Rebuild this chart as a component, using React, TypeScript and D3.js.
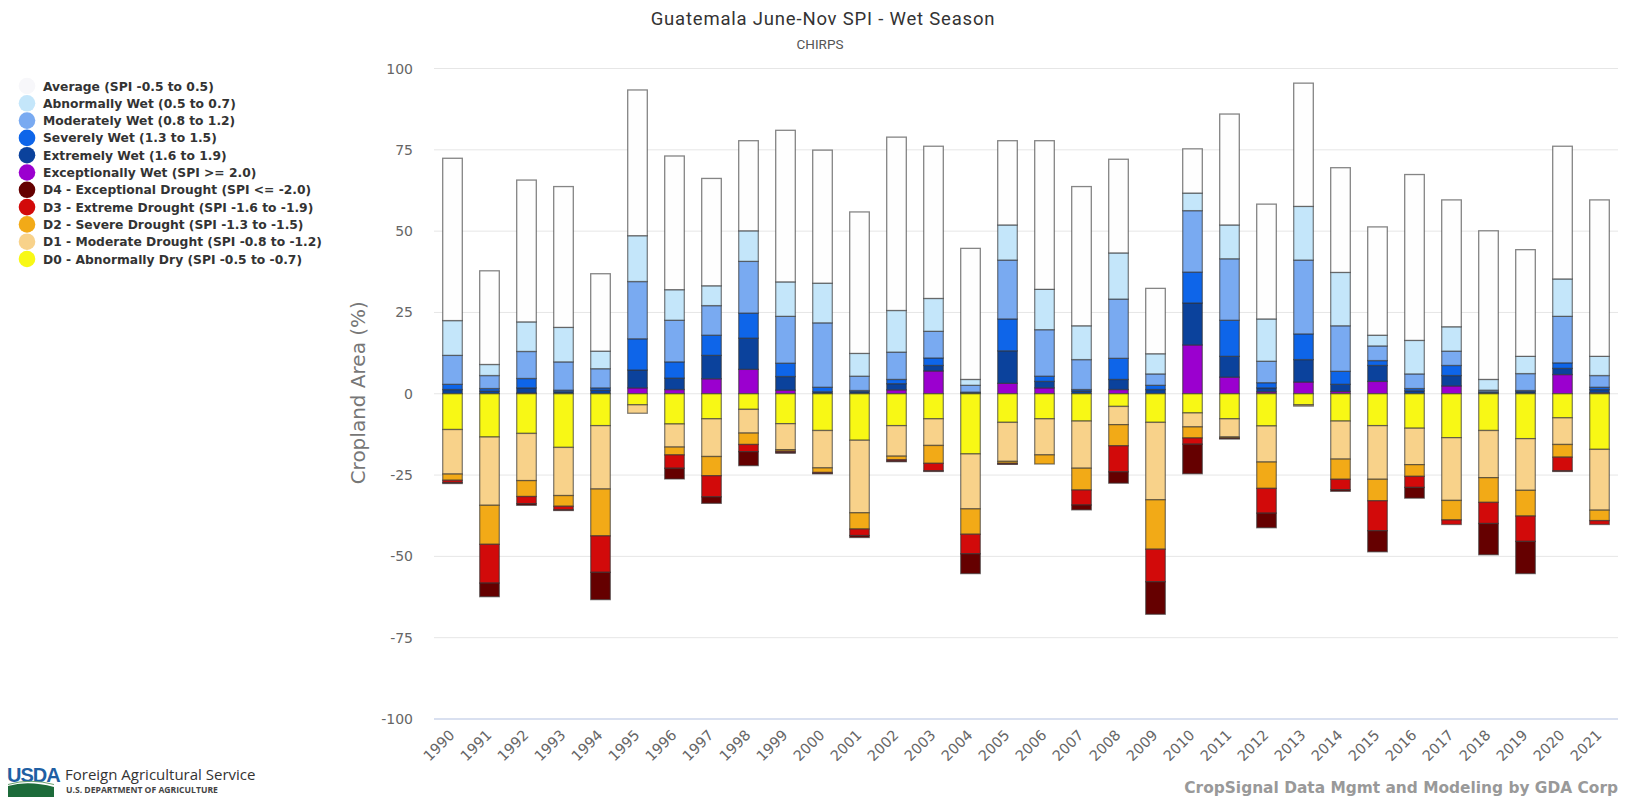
import React from "react";
import { scaleBand, scaleLinear } from "d3";

// Seasonal SPI cropland share (%) for Guatemala, June–November, per year.
const years = [
  "1990", "1991", "1992", "1993", "1994", "1995", "1996", "1997", "1998", "1999",
  "2000", "2001", "2002", "2003", "2004", "2005", "2006", "2007", "2008", "2009",
  "2010", "2011", "2012", "2013", "2014", "2015", "2016", "2017", "2018", "2019",
  "2020", "2021",
];

// Wet classes (stacked upward from zero)
const exceptionallyWet = [0, 0, 0.2, 0, 0, 1.8, 1.3, 4.6, 7.5, 1.1, 0, 0, 1.2, 7.0, 0, 3.2, 1.8, 0, 1.3, 0, 15.0, 5.1, 0.6, 3.6, 0.7, 3.8, 0, 2.4, 0, 0, 5.9, 0.3];
const extremelyWet = [1.3, 0.8, 1.6, 0.6, 1.1, 5.5, 3.5, 7.2, 9.6, 4.2, 0.6, 0.6, 1.9, 1.7, 0.3, 10.0, 2.0, 0.8, 3.1, 1.3, 12.9, 6.4, 1.2, 6.9, 2.2, 4.9, 0.9, 3.2, 0.3, 0.6, 1.9, 1.0];
const severelyWet = [1.6, 0.8, 2.9, 0.5, 0.7, 9.6, 5.0, 6.2, 7.7, 4.1, 1.4, 0.4, 1.3, 2.3, 0.2, 9.8, 1.6, 0.5, 6.5, 1.3, 9.5, 11.1, 1.6, 7.9, 4.0, 1.5, 0.7, 3.1, 0.3, 0.4, 1.7, 0.7];
const moderatelyWet = [8.9, 4.0, 8.3, 8.7, 5.9, 17.6, 12.8, 9.1, 15.9, 14.4, 19.8, 4.4, 8.4, 8.2, 2.1, 18.1, 14.3, 9.2, 18.2, 3.5, 18.9, 18.9, 6.6, 22.7, 14.0, 4.5, 4.5, 4.4, 0.5, 5.2, 14.3, 3.6];
const abnormallyWet = [10.7, 3.4, 9.1, 10.6, 5.4, 14.1, 9.4, 6.1, 9.4, 10.6, 12.2, 7.0, 12.8, 10.1, 1.8, 10.8, 12.4, 10.4, 14.2, 6.2, 5.4, 10.4, 13.0, 16.5, 16.4, 3.3, 10.3, 7.5, 3.3, 5.3, 11.5, 5.9];
const average = [49.9, 28.8, 43.6, 43.3, 23.8, 44.8, 41.1, 33.0, 27.7, 46.6, 40.9, 43.5, 53.3, 46.8, 40.3, 25.9, 45.7, 42.8, 28.8, 20.1, 13.6, 34.1, 35.3, 37.9, 32.2, 33.3, 51.0, 39.0, 45.7, 32.8, 40.8, 48.1];

// Dry classes (stacked downward from zero)
const d0 = [11.0, 13.3, 12.2, 16.5, 9.8, 3.4, 9.3, 7.7, 4.8, 9.2, 11.3, 14.3, 9.8, 7.7, 18.5, 8.8, 7.7, 8.4, 3.9, 8.8, 5.9, 7.7, 9.9, 3.4, 8.4, 9.8, 10.6, 13.5, 11.3, 13.8, 7.4, 17.1];
const d1 = [13.7, 21.0, 14.5, 14.8, 19.5, 2.6, 7.1, 11.6, 7.3, 8.0, 11.5, 22.3, 9.4, 8.2, 16.9, 12.0, 11.1, 14.5, 5.6, 23.8, 4.3, 5.6, 11.1, 0.4, 11.7, 16.5, 11.2, 19.3, 14.5, 15.9, 8.2, 18.7];
const d2 = [1.9, 12.0, 4.9, 3.3, 14.4, 0, 2.4, 5.9, 3.5, 0.5, 1.4, 5.0, 1.1, 5.5, 7.8, 0.6, 2.8, 6.7, 6.5, 15.2, 3.4, 0.3, 8.1, 0, 6.2, 6.6, 3.6, 6.0, 7.6, 7.9, 3.9, 3.2];
const d3 = [0.7, 11.9, 2.2, 1.1, 11.2, 0, 4.1, 6.5, 2.2, 0.3, 0.3, 2.0, 0.4, 2.3, 6.0, 0.2, 0, 4.6, 8.0, 10.0, 1.9, 0.2, 7.6, 0, 3.2, 9.2, 3.4, 1.4, 6.5, 7.8, 4.2, 1.2];
const d4 = [0.3, 4.2, 0.5, 0.2, 8.4, 0, 3.3, 2.0, 4.3, 0.3, 0.1, 0.6, 0.2, 0.2, 6.1, 0.1, 0, 1.5, 3.5, 10.0, 9.1, 0.1, 4.5, 0, 0.5, 6.5, 3.3, 0, 9.6, 9.9, 0.2, 0];

const yTicks = [-100, -75, -50, -25, 0, 25, 50, 75, 100];

type Series = { name: string; color: string; values: number[]; sign: 1 | -1 };

const wetSeries: Series[] = [
  { name: "Exceptionally Wet (SPI >= 2.0)", color: "#9b00cf", values: exceptionallyWet, sign: 1 },
  { name: "Extremely Wet (1.6 to 1.9)", color: "#0b429c", values: extremelyWet, sign: 1 },
  { name: "Severely Wet (1.3 to 1.5)", color: "#0e65e9", values: severelyWet, sign: 1 },
  { name: "Moderately Wet (0.8 to 1.2)", color: "#79aaf1", values: moderatelyWet, sign: 1 },
  { name: "Abnormally Wet (0.5 to 0.7)", color: "#c4e6fa", values: abnormallyWet, sign: 1 },
  { name: "Average (SPI -0.5 to 0.5)", color: "#fefefe", values: average, sign: 1 },
];
const drySeries: Series[] = [
  { name: "D0 - Abnormally Dry (SPI -0.5 to -0.7)", color: "#f8f815", values: d0, sign: -1 },
  { name: "D1 - Moderate Drought (SPI -0.8 to -1.2)", color: "#f8d28a", values: d1, sign: -1 },
  { name: "D2 - Severe Drought (SPI -1.3 to -1.5)", color: "#f2aa17", values: d2, sign: -1 },
  { name: "D3 - Extreme Drought (SPI -1.6 to -1.9)", color: "#d20a0a", values: d3, sign: -1 },
  { name: "D4 - Exceptional Drought (SPI <= -2.0)", color: "#650000", values: d4, sign: -1 },
];

const legendOrder = [
  wetSeries[5], wetSeries[4], wetSeries[3], wetSeries[2], wetSeries[1], wetSeries[0],
  drySeries[4], drySeries[3], drySeries[2], drySeries[1], drySeries[0],
];

const W = 1627;
const H = 801;
const plotLeft = 434;
const plotRight = 1618;
const plotTop = 68.5;
const plotBottom = 719;

export default function App() {
  const x = scaleBand<string>().domain(years).range([plotLeft, plotRight]).paddingInner(0.47).paddingOuter(0.235);
  const y = scaleLinear().domain([-100, 100]).range([plotBottom, plotTop]);

  const segments: { key: string; x: number; y0: number; y1: number; color: string }[] = [];
  years.forEach((yr, i) => {
    for (const group of [wetSeries, drySeries]) {
      let acc = 0;
      group.forEach((s) => {
        const v = s.values[i];
        if (v <= 0) return;
        const start = acc;
        acc += v * s.sign;
        segments.push({ key: `${yr}-${s.name}`, x: x(yr)!, y0: y(start), y1: y(acc), color: s.color });
      });
    }
  });

  const font = "'DejaVu Sans', Verdana, sans-serif";

  return (
    <div style={{ position: "absolute", left: 0, top: 0 }}>
      <svg width={W} height={H} style={{ display: "block", background: "#fff" }}>
        {/* titles */}
        <text x={823} y={25} textAnchor="middle" fontFamily="Roboto, sans-serif" fontSize={18.5} letterSpacing={0.8} fill="#333">
          Guatemala June-Nov SPI - Wet Season
        </text>
        <text x={820} y={49} textAnchor="middle" fontFamily="Roboto, sans-serif" fontSize={13.5} fill="#555">
          CHIRPS
        </text>

        {/* grid + y labels */}
        {yTicks.map((t) => (
          <g key={t}>
            {t !== -100 && (
              <line x1={plotLeft} x2={plotRight} y1={y(t)} y2={y(t)} stroke="#e6e6e6" strokeWidth={1} />
            )}
            <text x={413} y={y(t) + 5} textAnchor="end" fontFamily={font} fontSize={14} fill="#666">
              {t}
            </text>
          </g>
        ))}
        <line x1={plotLeft} x2={plotRight} y1={y(-100)} y2={y(-100)} stroke="#ccd6eb" strokeWidth={1.6} />

        <text
          transform={`translate(365,${y(0) - 1}) rotate(-90)`}
          textAnchor="middle"
          fontFamily={font}
          fontSize={20}
          fill="#777"
        >
          Cropland Area (%)
        </text>

        {/* stacked bars */}
        {segments.map((s) => (
          <rect
            key={s.key}
            x={s.x}
            width={x.bandwidth()}
            y={Math.min(s.y0, s.y1)}
            height={Math.abs(s.y1 - s.y0)}
            fill={s.color}
            stroke="#333"
            strokeOpacity={0.6}
            strokeWidth={1.3}
          />
        ))}

        {/* x labels */}
        {years.map((yr) => (
          <text
            key={yr}
            transform={`translate(${x(yr)! + x.bandwidth() / 2 + 3},${plotBottom + 17}) rotate(-45)`}
            textAnchor="end"
            fontFamily={font}
            fontSize={14.5}
            fill="#666"
          >
            {yr}
          </text>
        ))}

        {/* legend */}
        {legendOrder.map((s, i) => (
          <g key={s.name} transform={`translate(27,${86 + i * 17.3})`}>
            <circle r={8.3} fill={s === wetSeries[5] ? "#f7f7fa" : s.color} />
            <text x={16} y={4.5} fontFamily={font} fontSize={12.3} fontWeight={700} fill="#333">
              {s.name}
            </text>
          </g>
        ))}

        {/* footer: agency mark */}
        <g>
          <text x={7} y={782} fontFamily="'Liberation Sans', Arial, sans-serif" fontSize={20} fontWeight={700} fill="#1f5fa3" letterSpacing={-1}>
            USDA
          </text>
          <path d="M8,786 Q28,780 54,787 L54,797 L8,797 Z" fill="#1d6b3a" />
          <path d="M8,784.5 Q30,778 54,784.5" fill="none" stroke="#6aa06f" strokeWidth={1} />
          <text x={65} y={780} fontFamily="'Open Sans', sans-serif" fontSize={15} fill="#333">
            Foreign Agricultural Service
          </text>
          <text x={66} y={793} fontFamily="'Open Sans', sans-serif" fontSize={8.6} fontWeight={700} fill="#444">
            U.S. DEPARTMENT OF AGRICULTURE
          </text>
        </g>
        <text x={1618} y={793} textAnchor="end" fontFamily={font} fontSize={15.4} fontWeight={700} fill="#999">
          CropSignal Data Mgmt and Modeling by GDA Corp
        </text>
      </svg>
    </div>
  );
}
